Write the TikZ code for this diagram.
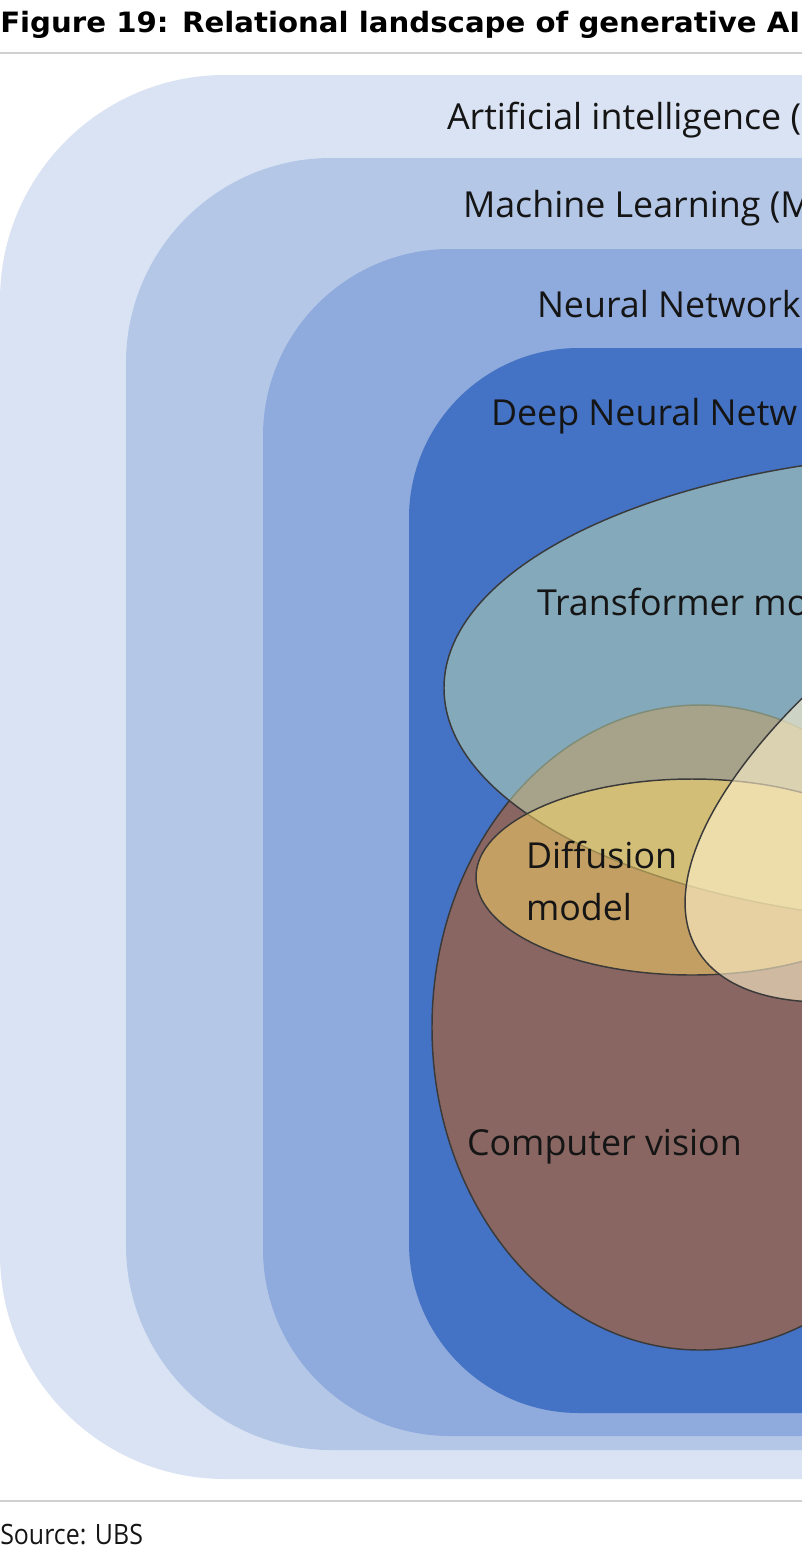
\documentclass[tikz,border=0pt]{standalone}
\usepackage{fontspec}
\usepackage{graphicx}
\setmainfont{Open Sans}
\newfontfamily\titlefont{DejaVu Sans}
\definecolor{aiC}{HTML}{DAE3F3}
\definecolor{mlC}{HTML}{B4C7E7}
\definecolor{nnC}{HTML}{8FAADC}
\definecolor{dnnC}{HTML}{4472C4}
\definecolor{cvC}{HTML}{896662}
\definecolor{trC}{HTML}{C5E0B4}
\definecolor{dfC}{HTML}{FFD966}
\definecolor{gaC}{HTML}{FFF2CC}
\definecolor{edgeC}{HTML}{3A3A3A}
\definecolor{ruleC}{HTML}{D0D0D0}
\definecolor{txtC}{HTML}{151515}
\tikzset{
  lbl/.style={anchor=base west, inner sep=0pt, outer sep=0pt, text=txtC,
    font=\fontsize{26.85pt}{31pt}\selectfont},
  blob/.style={draw=edgeC, line width=1.1pt},
  rulel/.style={draw=ruleC, line width=1.5pt}
}
\begin{document}
\begin{tikzpicture}[x=0.75pt,y=-0.75pt]
\useasboundingbox (0,0) rectangle (802,1550);
\fill[white] (0,0) rectangle (802,1550);
\begin{scope}
\clip (0,0) rectangle (802,1550);
% nested rounded areas
\fill[aiC, rounded corners=168.75pt] (0,75) rectangle (1400,1479);
\fill[mlC, rounded corners=153.75pt] (126,158) rectangle (1400,1450);
\fill[nnC, rounded corners=140.25pt] (263,249) rectangle (1400,1436);
\fill[dnnC, rounded corners=127.5pt] (409,348) rectangle (1400,1413);
% overlapping ellipses
\filldraw[blob, fill=cvC] (700,1027.5) ellipse [x radius=268, y radius=322.5];
\filldraw[blob, fill=trC, fill opacity=0.5] (984,688) ellipse [x radius=540, y radius=236];
\filldraw[blob, fill=dfC, fill opacity=0.5] (692,877) ellipse [x radius=216, y radius=98];
\filldraw[blob, fill=gaC, fill opacity=0.6, rotate around={30.5:(1083,722)}] (1083,722) ellipse [x radius=448, y radius=190];
% labels
\node[lbl] (ai) at (447,129.5) {Artificial intelligence (};
\node[lbl] (ml) at (463,217) {Machine Learning (M};
\node[lbl] (nn) at (537,317) {Neural Network};
\node[lbl] (dnn) at (491,425) {Deep Neural Netw};
\node[lbl] (tr) at (537,615) {Transformer mo};
\node[lbl] (df1) at (526,868) {Diffusion};
\node[lbl] (df2) at (526,920) {model};
\node[lbl] (cv) at (467,1155) {Computer vision};
% title, rules and source
\node[anchor=base west, inner sep=0pt, text=black] (title) at (0,32.5)
  {\resizebox{600pt}{\height}{\titlefont\fontsize{21pt}{25pt}\selectfont\bfseries Figure 19: Relational landscape of generative AI}};
\coordinate (r1a) at (0,53);
\coordinate (r1b) at (802,53);
\draw[rulel] (r1a) -- (r1b);
\coordinate (r2a) at (0,1501);
\coordinate (r2b) at (802,1501);
\draw[rulel] (r2a) -- (r2b);
\node[anchor=base west, inner sep=0pt, text=txtC] (src) at (0,1544)
  {\resizebox{107pt}{\height}{\fontsize{21pt}{25pt}\selectfont Source: UBS}};
\end{scope}
\end{tikzpicture}
\end{document}
